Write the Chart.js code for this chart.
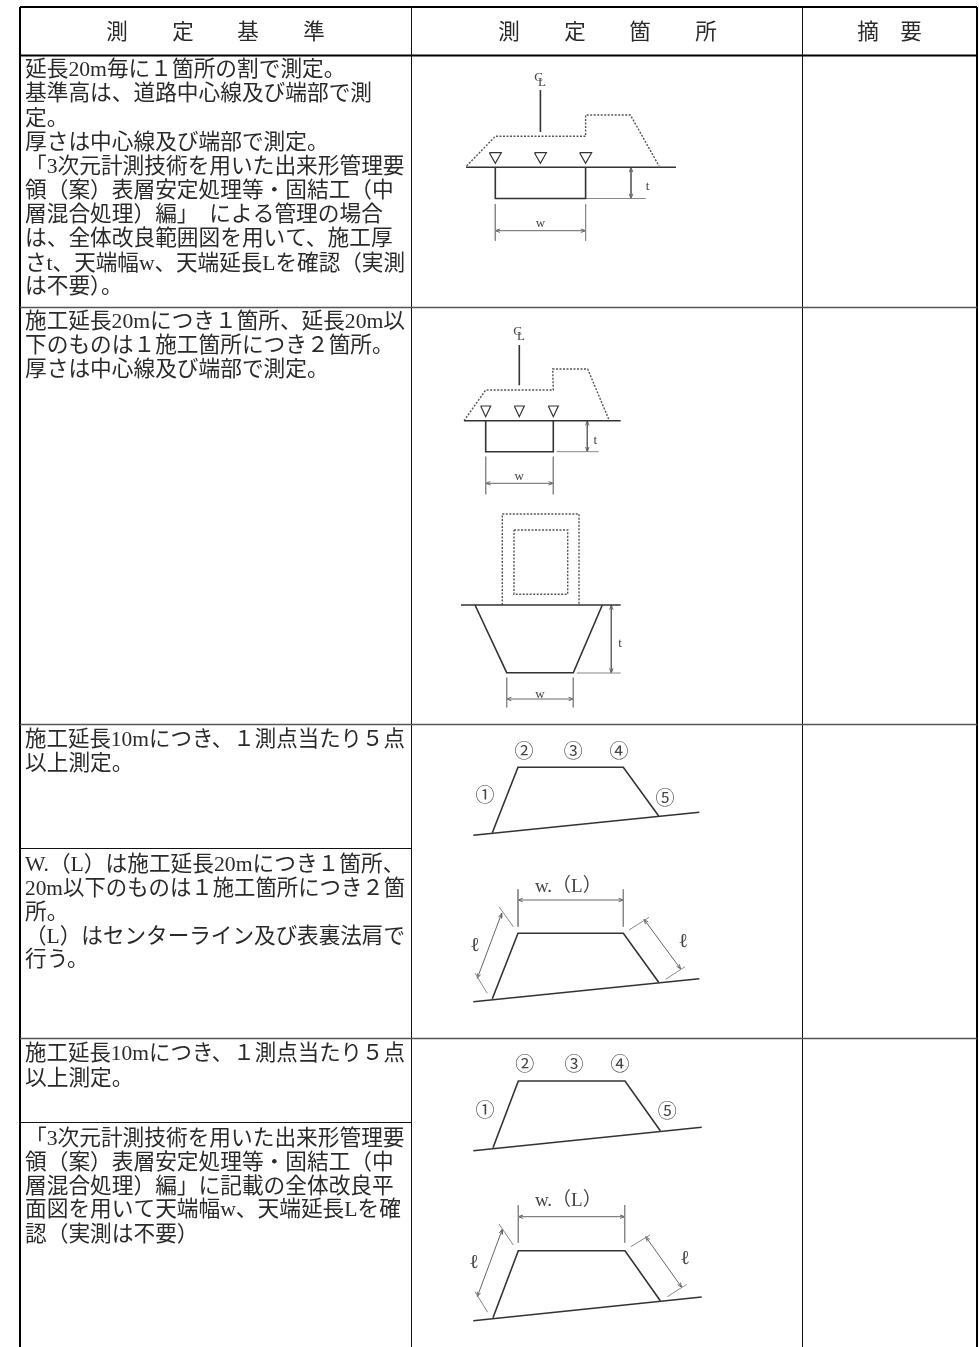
<!DOCTYPE html>
<html lang="ja">
<head>
<meta charset="utf-8">
<title>測定基準</title>
<script src="https://cdn.jsdelivr.net/npm/chart.js@4"></script>
<style>
html, body { margin: 0; padding: 0; background: #fff; }
canvas { display: block; }
</style>
</head>
<body>
<canvas id="sheet" width="979" height="1347"></canvas>
<script>
var headerTexts = ["測", "定", "基", "準", "測", "定", "箇", "所", "摘", "要"];
var headerX = [117, 183, 248, 314, 509, 575, 640, 706, 868, 911];

var bodyTexts = [
    "延長20m毎に１箇所の割で測定。",
    "基準高は、道路中心線及び端部で測",
    "定。",
    "厚さは中心線及び端部で測定。",
    "「3次元計測技術を用いた出来形管理要",
    "領（案）表層安定処理等・固結工（中",
    "層混合処理）編」\u2002による管理の場合",
    "は、全体改良範囲図を用いて、施工厚",
    "さt、天端幅w、天端延長Lを確認（実測",
    "は不要）。",
    "施工延長20mにつき１箇所、延長20m以",
    "下のものは１施工箇所につき２箇所。",
    "厚さは中心線及び端部で測定。",
    "施工延長10mにつき、１測点当たり５点",
    "以上測定。",
    "W.（L）は施工延長20mにつき１箇所、",
    "20m以下のものは１施工箇所につき２箇",
    "所。",
    "（L）はセンターライン及び表裏法肩で",
    "行う。",
    "施工延長10mにつき、１測点当たり５点",
    "以上測定。",
    "「3次元計測技術を用いた出来形管理要",
    "領（案）表層安定処理等・固結工（中",
    "層混合処理）編」に記載の全体改良平",
    "面図を用いて天端幅w、天端延長Lを確",
    "認（実測は不要）"
];
var bodyY = [68, 92, 117, 141, 165, 189, 213, 237, 262, 285, 320, 344, 368, 738, 762, 863, 887, 911, 935, 958, 1052, 1077, 1137, 1161, 1185, 1208, 1233];

var tableHeavy = [
    [[20, 7], [977, 7]],
    [[20, 55.5], [977, 55.5]],
    [[20, 7], [20, 1347]],
    [[977, 7], [977, 1347]]
];
var tableThin = [
    [[411.5, 7], [411.5, 1347]],
    [[802.5, 7], [802.5, 1347]],
    [[20, 848.5], [411.5, 848.5]],
    [[20, 1122.5], [411.5, 1122.5]]
];
var tableGrey = [
    [[20, 307.5], [977, 307.5]],
    [[20, 724.5], [977, 724.5]],
    [[20, 1038.5], [977, 1038.5]]
];

var solidLines = [
    [[540.4, 90], [540.4, 132]],
    [[466, 167.3], [676, 167.3]],
    [[495.3, 167.3], [495.3, 198.5], [585.6, 198.5], [585.6, 167.3]],
    [[519.3, 345], [519.3, 385.3]],
    [[464, 420.7], [620.7, 420.7]],
    [[485.7, 420.7], [485.7, 451.7], [553.3, 451.7], [553.3, 420.7]],
    [[461, 605], [620.7, 605]],
    [[475, 605], [506.7, 672.7], [573.3, 672.7], [602.3, 605]],
    [[473.3, 835.3], [699.3, 812.3]],
    [[492.3, 832.7], [518, 767.3], [623.3, 767.3], [658.7, 816]],
    [[473.3, 1001.7], [699.3, 978.7]],
    [[492.3, 998.7], [518, 933.3], [623.3, 933.3], [658.7, 982.3]],
    [[473.3, 1150.7], [701.7, 1127.3]],
    [[493, 1147.7], [518.3, 1081], [625, 1081], [660.3, 1130.7]],
    [[473.3, 1320.7], [701.7, 1297]],
    [[493, 1317.7], [518.3, 1250.7], [625, 1250.7], [660.3, 1300.7]]
];
var dottedLines = [
    [[466.6, 166], [495.3, 136.3], [585.6, 136.3], [585.6, 115], [630.4, 115], [659, 166]],
    [[464, 420.7], [485.7, 390], [553.3, 390], [552.7, 369], [587.7, 369], [609.3, 420.7]],
    [[502.3, 605], [502.3, 514], [579, 514], [579, 605]],
    [[514, 530], [567.7, 530], [567.7, 594.3], [514, 594.3], [514, 530]]
];
var triangles = [
    [[489.3, 152.7], [501.3, 152.7], [495.3, 163.3], [489.3, 152.7]],
    [[534.4, 152.7], [546.4, 152.7], [540.4, 163.3], [534.4, 152.7]],
    [[579.6, 152.7], [591.6, 152.7], [585.6, 163.3], [579.6, 152.7]],
    [[480.7, 406], [490.7, 406], [485.7, 416.7], [480.7, 406]],
    [[514.3, 406], [524.3, 406], [519.3, 416.7], [514.3, 406]],
    [[548.3, 406], [558.3, 406], [553.3, 416.7], [548.3, 406]]
];
var extensionLines = [
    [[578, 198.5], [645.8, 198.5]],
    [[495.3, 204], [495.3, 240.7]],
    [[585.6, 204], [585.6, 240.7]],
    [[556.7, 451.7], [598.7, 451.7]],
    [[485.7, 456.7], [485.7, 494.3]],
    [[553.3, 456.7], [553.3, 494.3]],
    [[576.7, 673], [620.7, 673]],
    [[506.7, 677.7], [506.7, 707.3]],
    [[573.3, 677.7], [573.3, 707.3]],
    [[518, 889.3], [518, 926.7]],
    [[623.3, 889.3], [623.3, 926.7]],
    [[499, 906.7], [513.3, 926.7]],
    [[475, 973.3], [487.3, 993.3]],
    [[629, 930], [649, 917.3]],
    [[665.7, 979.3], [685, 966.7]],
    [[518.3, 1205], [518.3, 1242.7]],
    [[624.7, 1205], [624.7, 1242.7]],
    [[499, 1224], [513.3, 1245]],
    [[475, 1291.7], [487.7, 1312.3]],
    [[630.7, 1246.7], [650, 1235]],
    [[667.3, 1296.7], [686.7, 1284.3]]
];
var dimensionLines = [
    [[631, 167.3], [631, 198.5]],
    [[495.3, 230.7], [585.6, 230.7]],
    [[587.3, 420.7], [587.3, 451.7]],
    [[485.7, 483.3], [553.3, 483.3]],
    [[611.3, 605], [611.3, 673]],
    [[506.7, 699], [573.3, 699]],
    [[518, 900], [623.3, 900]],
    [[501.7, 913.3], [477.3, 978.3]],
    [[644, 919.3], [680.7, 969]],
    [[518.3, 1216.7], [624.7, 1216.7]],
    [[502.3, 1229.3], [477.3, 1296.7]],
    [[645.7, 1236.7], [681.7, 1287.3]]
];

var figureTexts = ["C", "L", "t", "w", "C", "L", "t", "w", "t", "w",
    "①", "②", "③", "④", "⑤", "w.（L）", "ℓ", "ℓ",
    "①", "②", "③", "④", "⑤", "w.（L）", "ℓ", "ℓ"];
var figureX = [538.5, 542, 647.6, 540.4, 517.5, 521, 595.3, 519.3, 620, 540,
    485, 524, 573.3, 619, 665, 568.3, 475, 683.3,
    485, 524.7, 574, 620, 667.3, 568.3, 474, 685];
var figureY = [75, 80, 184, 221, 329, 334, 438, 474, 641, 691.7,
    795, 750.7, 750.7, 750.7, 797.3, 884.3, 943.3, 939.3,
    1109.3, 1064, 1064, 1064, 1111, 1199, 1260, 1256];
var figureSizes = [13, 13, 13, 13, 13, 13, 13, 13, 13, 13,
    19, 19, 19, 19, 19, 19, 20, 20,
    19, 19, 19, 19, 19, 19, 20, 20];

// short barbs at both ends of a dimension line
function arrowBarbs(line) {
    var out = [];
    [[line[0], line[1]], [line[1], line[0]]].forEach(function (pair) {
        var tip = pair[0], other = pair[1];
        var a = Math.atan2(other[1] - tip[1], other[0] - tip[0]);
        out.push([
            [tip[0] + 5 * Math.cos(a + 0.35), tip[1] + 5 * Math.sin(a + 0.35)],
            tip,
            [tip[0] + 5 * Math.cos(a - 0.35), tip[1] + 5 * Math.sin(a - 0.35)]
        ]);
    });
    return out;
}

function toDatasets(lines, color, width, dash) {
    return lines.map(function (line) {
        return {
            data: line.map(function (p) { return { x: p[0], y: p[1] }; }),
            showLine: true,
            borderColor: color,
            borderWidth: width,
            borderDash: dash || [],
            pointRadius: 0,
            tension: 0,
            clip: false,
            fill: false
        };
    });
}

var barbs = [];
dimensionLines.forEach(function (l) { barbs = barbs.concat(arrowBarbs(l)); });

var datasets = [].concat(
    toDatasets(tableGrey, "#555", 1.5),
    toDatasets(tableThin, "#111", 1),
    toDatasets(tableHeavy, "#000", 2),
    toDatasets(solidLines, "#333", 1.6),
    toDatasets(dottedLines, "#555", 1.4, [2, 1.5]),
    toDatasets(triangles, "#333", 1.2),
    toDatasets(extensionLines, "#888", 1),
    toDatasets(dimensionLines, "#666", 1),
    toDatasets(barbs, "#666", 1)
);

var MINCHO = '"Liberation Serif", "Noto Sans CJK JP"';
var TEXT_DROP = 2.5; // canvas "middle" sits a bit high for this font

var sheetText = {
    id: "sheetText",
    afterDatasetsDraw: function (chart) {
        var ctx = chart.ctx, sx = chart.scales.x, sy = chart.scales.y;
        ctx.save();
        ctx.textBaseline = "middle";
        ctx.fillStyle = "#2a2a2a";
        ctx.textAlign = "center";
        ctx.font = "21.5px " + MINCHO;
        headerTexts.forEach(function (t, i) {
            ctx.fillText(t, sx.getPixelForValue(headerX[i]), sy.getPixelForValue(31) + TEXT_DROP);
        });
        ctx.textAlign = "left";
        ctx.font = "21.7px " + MINCHO;
        bodyTexts.forEach(function (t, i) {
            // latin glyphs are wider than in the original, keep lines inside the cell
            ctx.fillText(t, sx.getPixelForValue(25), sy.getPixelForValue(bodyY[i]) + TEXT_DROP, 380);
        });
        ctx.textAlign = "center";
        ctx.fillStyle = "#444";
        figureTexts.forEach(function (t, i) {
            ctx.font = figureSizes[i] + "px " + MINCHO;
            ctx.fillText(t, sx.getPixelForValue(figureX[i]), sy.getPixelForValue(figureY[i]) + TEXT_DROP);
        });
        ctx.restore();
    }
};

new Chart(document.getElementById("sheet"), {
    type: "scatter",
    data: { datasets: datasets },
    options: {
        responsive: false,
        animation: false,
        layout: { padding: 0 },
        plugins: { legend: { display: false }, tooltip: { enabled: false } },
        scales: {
            x: { type: "linear", min: 0, max: 979, display: false },
            y: { type: "linear", min: 0, max: 1347, reverse: true, display: false }
        }
    },
    plugins: [sheetText]
});
</script>
</body>
</html>
